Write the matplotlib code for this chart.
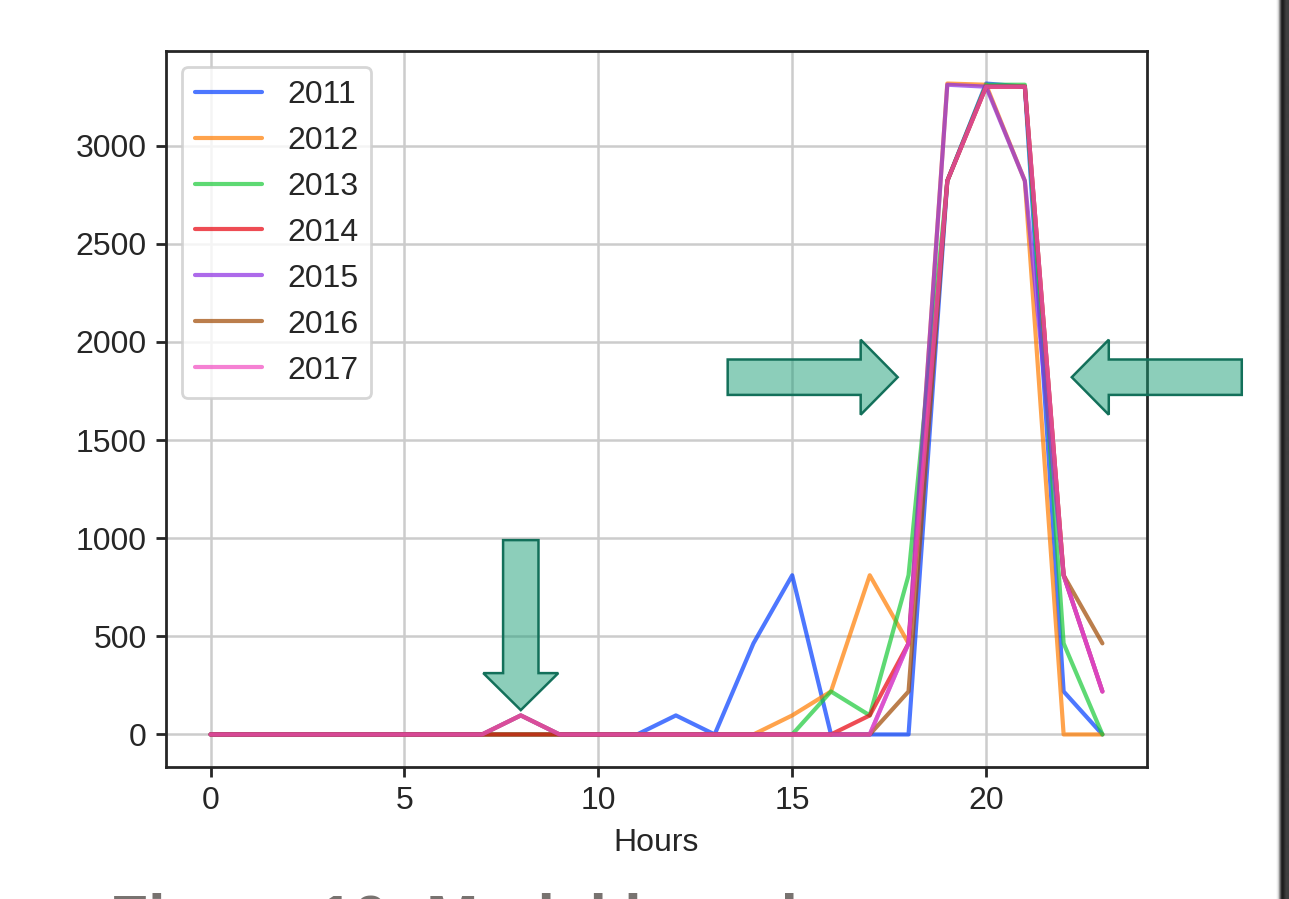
import numpy as np
import matplotlib
matplotlib.use("Agg")
import matplotlib.pyplot as plt
import matplotlib.transforms as mtransforms
from matplotlib.patches import Polygon
import seaborn as sns

# hourly counts per year (hours 0..23)
hours = list(range(24))
years = ["2011", "2012", "2013", "2014", "2015", "2016", "2017"]

y2011 = [0, 0, 0, 0, 0, 0, 0, 0, 0, 0, 0, 0, 97, 0, 464, 811, 0, 0, 0, 2820, 3316, 3300, 219, 0]
y2012 = [0, 0, 0, 0, 0, 0, 0, 0, 0, 0, 0, 0, 0, 0, 0, 97, 219, 811, 464, 3316, 3310, 2820, 0, 0]
y2013 = [0, 0, 0, 0, 0, 0, 0, 0, 0, 0, 0, 0, 0, 0, 0, 0, 219, 97, 811, 2820, 3310, 3310, 464, 0]
y2014 = [0, 0, 0, 0, 0, 0, 0, 0, 0, 0, 0, 0, 0, 0, 0, 0, 0, 97, 464, 2820, 3300, 3300, 811, 219]
y2015 = [0, 0, 0, 0, 0, 0, 0, 0, 97, 0, 0, 0, 0, 0, 0, 0, 0, 0, 464, 3310, 3300, 2820, 811, 219]
y2016 = [0, 0, 0, 0, 0, 0, 0, 0, 97, 0, 0, 0, 0, 0, 0, 0, 0, 0, 219, 2820, 3300, 3300, 811, 464]
y2017 = [0, 0, 0, 0, 0, 0, 0, 0, 97, 0, 0, 0, 0, 0, 0, 0, 0, 0, 464, 2820, 3300, 3300, 811, 219]
series = [y2011, y2012, y2013, y2014, y2015, y2016, y2017]

# where the pointer arrows end (hour, count) and which way they point
arrow_tips = [(8, 124), (17.72, 1820), (22.21, 1820)]
arrow_dirs = [270, 0, 180]

sns.set_style("ticks", {"axes.grid": True})
plt.rcParams["font.family"] = ["Liberation Sans", "DejaVu Sans"]

fig = plt.figure(figsize=(12.89, 8.99), dpi=100)
ax = fig.add_axes([166 / 1289, 1 - 767 / 899, 981 / 1289, 716 / 899])

colors = sns.color_palette("bright", len(years))
for yr, vals, c in zip(years, series, colors):
    ax.plot(hours, vals, color=c, alpha=0.7, lw=3, label=yr)

ax.set_xlabel("Hours", fontsize=23, labelpad=8)
ax.tick_params(labelsize=23, length=7, width=2, pad=7, color=".15")
for sp in ax.spines.values():
    sp.set_linewidth(2)
ax.grid(color=".8", lw=1.8)
ax.set_xticks([0, 5, 10, 15, 20])

leg = ax.legend(loc="upper left", fontsize=23, handlelength=2.1)
leg.get_frame().set_linewidth(2)


def draw_arrow(ax, tip, angle):
    # arrow shape in pixels (pointing right, tip at origin)
    L, HL, HW, SW = 170, 37, 37.5, 17.7
    pts = np.array([(0, 0), (-HL, HW), (-HL, SW), (-L, SW),
                    (-L, -SW), (-HL, -SW), (-HL, -HW)]) / 100.0
    tr = (mtransforms.Affine2D().rotate_deg(angle)
          + fig.dpi_scale_trans
          + mtransforms.ScaledTranslation(tip[0], tip[1], ax.transData))
    p = Polygon(pts, closed=True, transform=tr, facecolor=(0.106, 0.620, 0.467, 0.5),
                edgecolor="#13705a", lw=1.8, zorder=6, clip_on=False)
    ax.add_patch(p)


for tip, ang in zip(arrow_tips, arrow_dirs):
    draw_arrow(ax, tip, ang)

# caption underneath, cut off by the page edge
fig.text(110 / 1289, 1 - 893 / 899, "Figure 10: Modal hour by year", fontsize=45,
         fontweight="bold", color="#787370", va="top", ha="left")

# page edge shadow on the right
sax = fig.add_axes([1276 / 1289, 0, 13 / 1289, 1])
grad = np.array([[0.05, 0.15, 0.3, 0.5, 0.7, 0.85, 0.9, 0.88, 0.85, 0.82, 0.8, 0.8, 0.8]])
sax.imshow(grad, aspect="auto", cmap="Greys", vmin=0, vmax=1, interpolation="bilinear")
sax.set_axis_off()

fig.savefig("out.png", dpi=100)
